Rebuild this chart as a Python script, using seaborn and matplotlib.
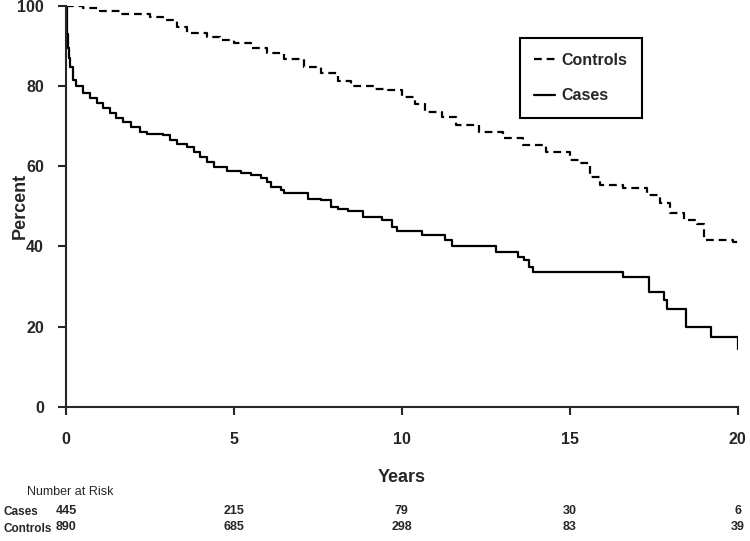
import numpy as np
import pandas as pd
import matplotlib
matplotlib.use("Agg")
import matplotlib.pyplot as plt
import matplotlib.transforms as mtransforms
import seaborn as sns


# survival curves (step points, time in years, survival in percent)
cases_t = [0, 0.02, 0.05, 0.08, 0.12, 0.2, 0.3, 0.5, 0.7, 0.92,
           1.1, 1.3, 1.5, 1.7, 1.95, 2.2, 2.4, 2.9, 3.1, 3.3,
           3.6, 3.8, 4.0, 4.2, 4.4, 4.8, 5.2, 5.5, 5.8, 6.0,
           6.1, 6.4, 6.5, 7.2, 7.6, 7.9, 8.1, 8.4, 8.85, 9.4,
           9.7, 9.85, 10.6, 11.3, 11.5, 12.8, 13.45, 13.65, 13.8, 13.9,
           16.6, 17.35, 17.8, 17.9, 18.45, 19.2, 20.0]
cases_s = [100, 93, 89.5, 87, 84.8, 81.5, 80, 78.2, 77, 75.7,
           74.5, 73.2, 72, 71, 69.8, 68.6, 68.1, 67.7, 66.5, 65.5,
           64.8, 63.5, 62.3, 61, 59.8, 58.8, 58.4, 57.8, 57.0, 56.1,
           54.8, 54.0, 53.2, 51.9, 51.5, 49.8, 49.2, 48.8, 47.3, 46.5,
           44.8, 43.8, 42.8, 41.6, 40.1, 38.6, 37.3, 36.6, 34.9, 33.6,
           32.3, 28.6, 26.6, 24.5, 19.9, 17.4, 14.4]

controls_t = [0, 0.5, 1.0, 1.6, 2.5, 2.9, 3.3, 3.6, 4.2, 4.6,
              5.0, 5.5, 6.0, 6.5, 7.1, 7.6, 8.1, 8.5, 9.2, 9.6,
              10.0, 10.4, 10.7, 11.2, 11.6, 12.3, 13.0, 13.6, 14.3, 15.0,
              15.3, 15.6, 15.9, 16.6, 17.3, 17.7, 18.0, 18.4, 18.8, 19.0,
              19.85, 20.0]
controls_s = [100, 99.4, 98.6, 98, 97.3, 96.4, 94.8, 93.2, 92.3, 91.5,
              90.6, 89.4, 88.2, 86.6, 84.7, 83.2, 81.2, 80.0, 79.2, 79.0,
              77.3, 75.5, 73.5, 72.3, 70.3, 68.6, 67.0, 65.3, 63.6, 61.6,
              60.7, 57.3, 55.3, 54.5, 52.8, 50.7, 48.2, 46.5, 45.7, 41.5,
              41.1, 40.7]

# number at risk table
risk_years = [0, 5, 10, 15, 20]
risk_cases = [445, 215, 79, 30, 6]
risk_controls = [890, 685, 298, 83, 39]

x_ticks = [0, 5, 10, 15, 20]
y_ticks = [0, 20, 40, 60, 80, 100]


sns.set_style("ticks")
plt.rcParams["font.family"] = ["Liberation Sans", "DejaVu Sans"]

cases = pd.DataFrame({"Years": cases_t, "Percent": cases_s})
controls = pd.DataFrame({"Years": controls_t, "Percent": controls_s})

fig = plt.figure(figsize=(7.5, 5.41), dpi=100)
ax = fig.add_axes([0.088, 0.248, 0.8955, 0.7415])

sns.lineplot(data=controls, x="Years", y="Percent", ax=ax, color="black",
             estimator=None, sort=False, drawstyle="steps-post",
             linewidth=1.6, dashes=False, label="Controls")
sns.lineplot(data=cases, x="Years", y="Percent", ax=ax, color="black",
             estimator=None, sort=False, drawstyle="steps-post",
             linewidth=1.6, dashes=False, label="Cases")
ax.lines[0].set_dashes((3.5, 2.2))

ax.set_xlim(0, 20)
ax.set_ylim(0, 100)
ax.set_xticks(x_ticks)
ax.set_yticks(y_ticks)

for s in ["top", "right"]:
    ax.spines[s].set_visible(False)
for s in ["left", "bottom"]:
    ax.spines[s].set_linewidth(1.5)
ax.tick_params(axis="both", width=1.5, length=6, direction="out",
               labelsize=11.5)
ax.tick_params(axis="x", pad=12)
ax.tick_params(axis="y", pad=10)
for lab in ax.get_xticklabels() + ax.get_yticklabels():
    lab.set_fontweight("bold")

ax.set_ylabel("Percent", fontsize=13, fontweight="bold", va="center")
ax.yaxis.set_label_coords(-0.068, 0.5)
ax.set_xlabel("Years", fontsize=13, fontweight="bold", va="center")
ax.xaxis.set_label_coords(0.5, -0.177)

leg = ax.legend(loc="upper left", bbox_to_anchor=(0.676, 0.919),
                frameon=True, fancybox=False, edgecolor="black",
                handlelength=1.3, handletextpad=0.4, labelspacing=1.3,
                borderpad=0.9, borderaxespad=0,
                prop={"weight": "bold", "size": 11.5})
leg.get_frame().set_linewidth(1.5)
leg.get_frame().set_alpha(None)
leg.get_frame().set_facecolor("white")

# number at risk table below the axis
trans = mtransforms.blended_transform_factory(ax.transData, fig.transFigure)
fig.text(0.036, 0.0906, "Number at Risk", fontsize=9, va="center", ha="left")
fig.text(0.004, 0.0536, "Cases", fontsize=8.5, fontweight="bold", va="center", ha="left")
fig.text(0.004, 0.0222, "Controls", fontsize=8.5, fontweight="bold", va="center", ha="left")
for yr, c, k in zip(risk_years, risk_cases, risk_controls):
    ax.text(yr, 0.056, str(c), transform=trans, fontsize=9, fontweight="bold",
            ha="center", va="center")
    ax.text(yr, 0.026, str(k), transform=trans, fontsize=9, fontweight="bold",
            ha="center", va="center")

fig.savefig("out.png", dpi=100)
